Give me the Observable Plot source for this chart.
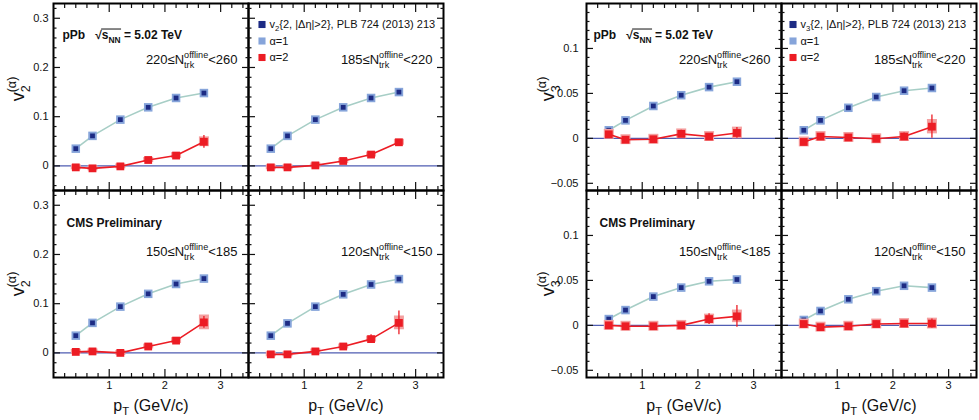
<!DOCTYPE html>
<html>
<head>
<meta charset="utf-8">
<script src="https://cdn.jsdelivr.net/npm/d3@7"></script>
<script src="https://cdn.jsdelivr.net/npm/@observablehq/plot@0.6"></script>
<style>
  html, body { margin: 0; padding: 0; background: white; }
  #wrap { display: flex; width: 979px; height: 420px; overflow: hidden; }
</style>
</head>
<body>
<div id="wrap"></div>
<script>
// ---------- data ----------
const pt = [0.4, 0.7, 1.2, 1.7, 2.2, 2.7];
const nLow = [220, 185, 150, 120];
const nHigh = [260, 220, 185, 150];
const panelCol = [0, 1, 0, 1];
const panelRow = [0, 0, 1, 1];

// v2
const v2Ref = [
  [0.035, 0.061, 0.094, 0.119, 0.138, 0.148],
  [0.035, 0.061, 0.094, 0.119, 0.138, 0.150],
  [0.035, 0.061, 0.094, 0.120, 0.140, 0.151],
  [0.035, 0.060, 0.094, 0.119, 0.139, 0.150]
];
const v2A1 = [
  [0.035, 0.061, 0.094, 0.119, 0.138, 0.148],
  [0.035, 0.061, 0.094, 0.119, 0.138, 0.150],
  [0.035, 0.061, 0.094, 0.120, 0.140, 0.151],
  [0.035, 0.060, 0.094, 0.119, 0.139, 0.150]
];
const v2A2 = [
  [-0.003, -0.005, -0.001, 0.012, 0.021, 0.049],
  [-0.003, -0.003, 0.001, 0.010, 0.023, 0.048],
  [0.002, 0.003, 0.000, 0.013, 0.025, 0.062],
  [-0.003, -0.003, 0.003, 0.013, 0.028, 0.061]
];
const v2A2Err = [
  [0.002, 0.002, 0.002, 0.003, 0.005, 0.013],
  [0.002, 0.002, 0.002, 0.002, 0.003, 0.004],
  [0.002, 0.002, 0.002, 0.003, 0.004, 0.012],
  [0.002, 0.002, 0.002, 0.003, 0.009, 0.024]
];
const v2A2Sys = [
  [0.005, 0.005, 0.005, 0.005, 0.006, 0.010],
  [0.005, 0.005, 0.005, 0.005, 0.005, 0.006],
  [0.005, 0.005, 0.005, 0.005, 0.006, 0.015],
  [0.005, 0.005, 0.005, 0.005, 0.006, 0.014]
];

// v3
const v3Ref = [
  [0.009, 0.020, 0.036, 0.048, 0.057, 0.063],
  [0.009, 0.020, 0.034, 0.046, 0.053, 0.056],
  [0.007, 0.017, 0.032, 0.042, 0.049, 0.051],
  [0.006, 0.016, 0.029, 0.038, 0.044, 0.042]
];
const v3A1 = [
  [0.009, 0.020, 0.036, 0.048, 0.057, 0.063],
  [0.009, 0.020, 0.034, 0.046, 0.053, 0.056],
  [0.007, 0.017, 0.032, 0.042, 0.049, 0.051],
  [0.006, 0.016, 0.029, 0.038, 0.044, 0.042]
];
const v3A2 = [
  [0.0045, -0.0015, -0.001, 0.005, 0.002, 0.006],
  [-0.004, 0.002, 0.001, -0.0005, 0.002, 0.013],
  [0.000, -0.001, -0.001, 0.000, 0.007, 0.010],
  [0.0015, -0.002, -0.001, 0.0015, 0.002, 0.002]
];
const v3A2Err = [
  [0.003, 0.002, 0.002, 0.004, 0.003, 0.006],
  [0.002, 0.002, 0.002, 0.003, 0.004, 0.013],
  [0.002, 0.002, 0.002, 0.003, 0.006, 0.012],
  [0.002, 0.002, 0.002, 0.003, 0.003, 0.005]
];
const v3A2Sys = [
  [0.0055, 0.0055, 0.0055, 0.0055, 0.0055, 0.0065],
  [0.0055, 0.0055, 0.0055, 0.0055, 0.0055, 0.008],
  [0.0055, 0.0055, 0.0055, 0.0055, 0.0055, 0.007],
  [0.0055, 0.0055, 0.0055, 0.0055, 0.0055, 0.006]
];

// ticks
const xMajor = [1, 2, 3];
const xMajorLabels = ["1", "2", "3"];
const v2YMajor = [0, 0.1, 0.2, 0.3];
const v2YLabels = ["0", "0.1", "0.2", "0.3"];
const v3YMajor = [-0.05, 0, 0.05, 0.1];
const v3YLabels = ["\u22120.05", "0", "0.05", "0.1"];

// texts
const energyText = "pPb   \u221As_{NN} = 5.02 TeV";
const prelimText = "CMS Preliminary";
const xTitle = "p_{T} (GeV/c)";
const v2Title = "v_{2}^{(\u03B1)}";
const v3Title = "v_{3}^{(\u03B1)}";
const v2Legend = ["v_{2}{2, |\u0394\u03B7|>2}, PLB 724 (2013) 213", "\u03B1=1", "\u03B1=2"];
const v3Legend = ["v_{3}{2, |\u0394\u03B7|>2}, PLB 724 (2013) 213", "\u03B1=1", "\u03B1=2"];
const legendColors = ["#1d2b84", "#86a4da", "#ec1c24"];

// ---------- helpers ----------
const minorTicks = (lo, hi, step, majors) =>
  d3.range(Math.round(lo / step), Math.round(hi / step) + 1)
    .map(k => +(k * step).toFixed(4))
    .filter(v => !majors.some(m => Math.abs(m - v) < 1e-6));

function buildRows(ref, a1, a2, err, sys) {
  const rows = [];
  for (let p = 0; p < 4; p++) {
    for (let i = 0; i < pt.length; i++) {
      rows.push({col: panelCol[p], row: panelRow[p], pt: pt[i],
        ref: ref[p][i], a1: a1[p][i], a2: a2[p][i], err: err[p][i], sys: sys[p][i]});
    }
  }
  return rows;
}

function group(o) {
  const rows = buildRows(o.ref, o.a1, o.a2, o.err, o.sys);
  const F = {fx: "col", fy: "row"};
  const blank = () => "";
  const xMinor = minorTicks(0.2, 3.4, 0.2, xMajor);
  const tickOpts = {facetAnchor: null, tickFormat: blank, label: null, strokeWidth: 1.2};
  const marks = [
    Plot.ruleY([0], {stroke: "#4f5db2", strokeWidth: 1.2}),
    Plot.line(rows, {...F, x: "pt", y: "a1", stroke: "#a7cec6", strokeWidth: 1.6}),
    Plot.dot(rows, {...F, x: "pt", y: "a1", symbol: "square", r: 4.8, fill: "#86a4da", stroke: "none"}),
    Plot.dot(rows, {...F, x: "pt", y: "ref", symbol: "square", r: 2.7, fill: "#1d2b84", stroke: "none"}),
    Plot.ruleX(rows, {...F, x: "pt", y1: d => d.a2 - d.sys, y2: d => d.a2 + d.sys, stroke: "#f4a0a0", strokeWidth: 10}),
    Plot.line(rows, {...F, x: "pt", y: "a2", stroke: "#ec1c24", strokeWidth: 1.6}),
    Plot.ruleX(rows, {...F, x: "pt", y1: d => d.a2 - d.err, y2: d => d.a2 + d.err, stroke: "#ec1c24", strokeWidth: 1.3}),
    Plot.dot(rows, {...F, x: "pt", y: "a2", symbol: "square", r: 4.4, fill: "#ec1c24", stroke: "none"}),
    Plot.frame({stroke: "black", strokeWidth: 2}),
    // inward ticks on all four sides of every panel
    Plot.axisY(o.yMajor, {...tickOpts, anchor: "left", tickSize: -7}),
    Plot.axisY(o.yMajor, {...tickOpts, anchor: "right", tickSize: -7}),
    Plot.axisY(o.yMinor, {...tickOpts, anchor: "left", tickSize: -3.5}),
    Plot.axisY(o.yMinor, {...tickOpts, anchor: "right", tickSize: -3.5}),
    Plot.axisX(xMajor, {...tickOpts, anchor: "bottom", tickSize: -8}),
    Plot.axisX(xMajor, {...tickOpts, anchor: "top", tickSize: -8}),
    Plot.axisX(xMinor, {...tickOpts, anchor: "bottom", tickSize: -4}),
    Plot.axisX(xMinor, {...tickOpts, anchor: "top", tickSize: -4}),
    // tick labels
    Plot.axisY(o.yMajor, {anchor: "left", tickSize: 0, tickPadding: o.yPad, label: null, fontSize: 11,
      tickFormat: d => o.yLabels[o.yMajor.indexOf(d)]}),
    Plot.axisX(xMajor, {anchor: "bottom", tickSize: 0, tickPadding: 4, label: null, fontSize: 11,
      tickFormat: d => xMajorLabels[xMajor.indexOf(d)]}),
    // axis titles
    Plot.text([0], {fx: () => 0, fy: () => 0, text: () => o.yTitle, frameAnchor: "left", rotate: -90,
      dx: o.yTitleDx, dy: -8, fontSize: 18, textAnchor: "middle"}),
    Plot.text([0], {fx: () => 0, fy: () => 1, text: () => o.yTitle, frameAnchor: "left", rotate: -90,
      dx: o.yTitleDx, dy: 0, fontSize: 18, textAnchor: "middle"}),
    Plot.text([0, 1], {fx: c => c, fy: () => 1, text: () => xTitle, frameAnchor: "bottom",
      dy: 28, fontSize: 16, lineAnchor: "middle"}),
    // panel annotations
    Plot.text([0], {fx: () => 0, fy: () => 0, text: () => energyText, frameAnchor: "top-left",
      dx: o.energyDx, dy: 32, fontSize: 12, fontWeight: "bold", textAnchor: "start", lineAnchor: "middle"}),
    Plot.text([0], {fx: () => 0, fy: () => 1, text: () => prelimText, frameAnchor: "top-left",
      dx: 13, dy: 33, fontSize: 12, fontWeight: "bold", textAnchor: "start", lineAnchor: "middle"}),
    Plot.text([0, 1], {fx: p => panelCol[p], fy: p => panelRow[p],
      text: p => `${nLow[p]}\u2264N_{trk}^{offline}<${nHigh[p]}`,
      frameAnchor: "top-right", dx: -11, dy: 56, fontSize: 13, textAnchor: "end", lineAnchor: "middle"}),
    Plot.text([2, 3], {fx: p => panelCol[p], fy: p => panelRow[p],
      text: p => `${nLow[p]}\u2264N_{trk}^{offline}<${nHigh[p]}`,
      frameAnchor: "top-right", dx: -11, dy: 61, fontSize: 13, textAnchor: "end", lineAnchor: "middle"}),
  ];
  // legend in the top-right panel
  o.legend.forEach((lab, i) => {
    marks.push(Plot.dot([0], {fx: () => 1, fy: () => 0, frameAnchor: "top-left", dx: o.legDx, dy: 21 + 16.5 * i,
      symbol: "square", r: 4, fill: legendColors[i], stroke: "none"}));
    marks.push(Plot.text([0], {fx: () => 1, fy: () => 0, text: () => lab, frameAnchor: "top-left",
      dx: o.legDx + 7.5, dy: 21 + 16.5 * i, fontSize: 11, textAnchor: "start", lineAnchor: "middle"}));
  });
  return Plot.plot({
    width: o.width, height: 420,
    marginLeft: o.marginLeft, marginRight: o.marginRight, marginTop: 3, marginBottom: 43,
    x: {domain: [0, 3.5]},
    y: {domain: o.yDomain},
    fx: {domain: [0, 1], padding: 0, axis: null},
    fy: {domain: [0, 1], padding: 0, axis: null},
    style: {fontFamily: "'Liberation Sans', Arial, Helvetica, sans-serif", color: "#111", background: "white", overflow: "visible"},
    marks
  });
}

// rich text: _{sub}, ^{sup}, radical overline
function richify(root) {
  const NS = "http://www.w3.org/2000/svg";
  root.querySelectorAll("text").forEach(t => {
    if (t.children.length) return;
    const s = t.textContent;
    if (!/[_^]\{/.test(s)) return;
    const fs = parseFloat(getComputedStyle(t).fontSize);
    const toks = [];
    let buf = "";
    for (let i = 0; i < s.length; i++) {
      const c = s[i];
      if ((c === "_" || c === "^") && s[i + 1] === "{") {
        const j = s.indexOf("}", i + 2);
        if (buf) toks.push({type: "n", text: buf});
        buf = "";
        toks.push({type: c === "_" ? "sub" : "sup", text: s.slice(i + 2, j)});
        i = j;
      } else buf += c;
    }
    if (buf) toks.push({type: "n", text: buf});
    t.textContent = "";
    let shift = 0, prev = null, prevW = 0, pos = 0;
    for (const tk of toks) {
      const sp = document.createElementNS(NS, "tspan");
      sp.textContent = tk.text;
      const target = tk.type === "sub" ? 0.3 * fs : tk.type === "sup" ? -0.45 * fs : 0;
      const dy = target - shift;
      if (dy) sp.setAttribute("dy", dy);
      if (tk.type !== "n") sp.setAttribute("font-size", 0.7 * fs);
      if (tk.type === "sup" && prev && prev.type === "sub") sp.setAttribute("dx", -prevW);
      t.appendChild(sp);
      prevW = sp.getComputedTextLength();
      tk.start = pos; pos += tk.text.length; tk.end = pos;
      shift = target; prev = tk;
    }
    const k = t.textContent.indexOf("\u221A");
    if (k >= 0) {
      const subTok = toks.find(tk => tk.type === "sub" && tk.start > k);
      if (subTok) {
        const p0 = t.getEndPositionOfChar(k);
        const base = t.getStartPositionOfChar(k);
        const p1 = t.getEndPositionOfChar(subTok.end - 1);
        const ln = document.createElementNS(NS, "line");
        const yy = base.y - 0.86 * fs;
        ln.setAttribute("x1", p0.x - 0.6);
        ln.setAttribute("x2", p1.x + 0.5);
        ln.setAttribute("y1", yy);
        ln.setAttribute("y2", yy);
        ln.setAttribute("stroke", "#111");
        ln.setAttribute("stroke-width", 1);
        const tr = t.getAttribute("transform");
        if (tr) ln.setAttribute("transform", tr);
        t.parentNode.appendChild(ln);
      }
    }
  });
}

const wrap = document.getElementById("wrap");
const left = group({
  width: 490, marginLeft: 53, marginRight: 47,
  yDomain: [-0.05, 0.33], yMajor: v2YMajor, yLabels: v2YLabels,
  yMinor: minorTicks(-0.04, 0.32, 0.02, v2YMajor), yPad: 5,
  ref: v2Ref, a1: v2A1, a2: v2A2, err: v2A2Err, sys: v2A2Sys,
  yTitle: v2Title, yTitleDx: -35, energyDx: 9, legDx: 13.5, legend: v2Legend
});
const right = group({
  width: 489, marginLeft: 96, marginRight: 3,
  yDomain: [-0.058, 0.15], yMajor: v3YMajor, yLabels: v3YLabels,
  yMinor: minorTicks(-0.05, 0.14, 0.01, v3YMajor), yPad: 8,
  ref: v3Ref, a1: v3A1, a2: v3A2, err: v3A2Err, sys: v3A2Sys,
  yTitle: v3Title, yTitleDx: -38, energyDx: 7, legDx: 11.5, legend: v3Legend
});
wrap.append(left, right);
richify(left);
richify(right);
</script>
</body>
</html>
